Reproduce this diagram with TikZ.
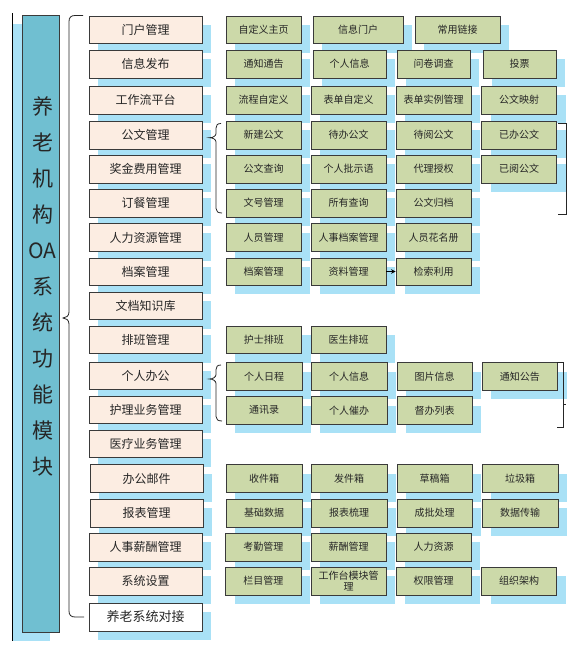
\documentclass[tikz,border=0pt]{standalone}
\usepackage{fontspec}
\newfontfamily\cjk{Noto Sans CJK SC}
\usetikzlibrary{arrows.meta}
\pgfdeclarelayer{bg}
\pgfsetlayers{bg,main}
\definecolor{shadowc}{HTML}{A9E1F6}
\definecolor{peach}{HTML}{FCEDE2}
\definecolor{greenc}{HTML}{CCD9A9}
\definecolor{titlec}{HTML}{70BFD1}
\definecolor{bordc}{HTML}{3A3A3A}
\definecolor{txtc}{HTML}{262626}
\tikzset{
  base/.style={draw=bordc,line width=0.9pt,inner sep=0pt,text=txtc,align=center},
  lone/.style={base,fill=peach,font=\cjk\fontsize{12}{14}\selectfont},
  lend/.style={base,fill=white,font=\cjk\fontsize{13}{15}\selectfont},
  ltwo/.style={base,fill=greenc,font=\cjk\fontsize{10}{11}\selectfont},
  brace/.style={draw=black!85,line width=0.8pt},
}
\newcommand\mybox[7]{%
  \begin{pgfonlayer}{bg}\fill[shadowc] (#3+9,#4+9) rectangle (#5+9,#6+9);\end{pgfonlayer}%
  \pgfmathsetmacro\bw{#5-#3}\pgfmathsetmacro\bh{#6-#4}%
  \node[#1,minimum width=\bw pt,minimum height=\bh pt] (#2) at ({(#3+#5)/2},{(#4+#6)/2}) {#7};%
}
\begin{document}
\begin{tikzpicture}[x=1pt,y=-1pt]
\useasboundingbox (0,0) rectangle (580,653);
% left line
\draw[line width=0.8pt] (12,13) -- (12,641);
% title
\begin{pgfonlayer}{bg}\fill[shadowc] (13,24) rectangle (50,641);\end{pgfonlayer}
\node[draw=bordc,line width=0.9pt,fill=titlec,minimum width=37pt,minimum height=616.5pt,inner sep=0pt] (title) at (40.5,323.75) {};
\node[font=\cjk\fontsize{21}{36}\selectfont,text=txtc,align=center,inner sep=0pt] (titletext) at (42.5,286) {养\\老\\机\\构\\OA\\系\\统\\功\\能\\模\\块};
% big brace
\draw[brace] (83,15.5) -- (75,15.5) .. controls (71,15.5) and (69,17.5) .. (69,21.5) -- (69,312) .. controls (69,316) and (66,318) .. (63,318) .. controls (66,318) and (69,320) .. (69,324) -- (69,611) .. controls (69,615) and (71,617) .. (75,617) -- (84,617);
% level 1
\mybox{lone}{a1}{89}{16}{202}{43.5}{门户管理}
\mybox{lone}{a2}{89}{50}{202}{78}{信息发布}
\mybox{lone}{a3}{89}{86}{202}{114}{工作流平台}
\mybox{lone}{a4}{89}{121}{202}{149}{公文管理}
\mybox{lone}{a5}{89}{155}{202}{183}{奖金费用管理}
\mybox{lone}{a6}{89}{189}{202}{217}{订餐管理}
\mybox{lone}{a7}{89}{223.5}{202}{251.5}{人力资源管理}
\mybox{lone}{a8}{89}{258}{202}{285}{档案管理}
\mybox{lone}{a9}{89}{292}{202}{319.5}{文档知识库}
\mybox{lone}{a10}{89}{326}{202}{353.5}{排班管理}
\mybox{lone}{a11}{89}{362}{202}{389.5}{个人办公}
\mybox{lone}{a12}{89}{396}{202}{423.5}{护理业务管理}
\mybox{lone}{a13}{89}{430}{202}{457.5}{医疗业务管理}
\mybox{lone}{a14}{90}{464.5}{203}{492.5}{办公邮件}
\mybox{lone}{a15}{90}{499}{203}{527}{报表管理}
\mybox{lone}{a16}{89}{533}{202}{561}{人事薪酬管理}
\mybox{lone}{a17}{89}{567}{202}{595}{系统设置}
\mybox{lend}{a18}{89}{603}{202}{631}{养老系统对接}
% row 1
\mybox{ltwo}{b11}{226}{16}{301}{43.5}{自定义主页}
\mybox{ltwo}{b12}{313}{16}{403}{43.5}{信息门户}
\mybox{ltwo}{b13}{415}{16}{500}{43.5}{常用链接}
% row 2
\mybox{ltwo}{b21}{226}{50}{301}{78}{通知通告}
\mybox{ltwo}{b22}{313}{50}{386}{78}{个人信息}
\mybox{ltwo}{b23}{397}{50}{470}{78}{问卷调查}
\mybox{ltwo}{b24}{483}{50}{556}{78}{投票}
% row 3
\mybox{ltwo}{b31}{226}{86}{301}{114}{流程自定义}
\mybox{ltwo}{b32}{311}{86}{386}{114}{表单自定义}
\mybox{ltwo}{b33}{396}{86}{471}{114}{表单实例管理}
\mybox{ltwo}{b34}{481.5}{86}{556.5}{114}{公文映射}
% row 4-6
\mybox{ltwo}{b41}{226}{121}{301}{149}{新建公文}
\mybox{ltwo}{b42}{311}{121}{386}{149}{待办公文}
\mybox{ltwo}{b43}{396}{121}{471}{149}{待阅公文}
\mybox{ltwo}{b44}{481.5}{121}{556.5}{149}{已办公文}
\mybox{ltwo}{b51}{226}{155}{301}{183}{公文查询}
\mybox{ltwo}{b52}{311}{155}{386}{183}{个人批示语}
\mybox{ltwo}{b53}{396}{155}{471}{183}{代理授权}
\mybox{ltwo}{b54}{481.5}{155}{556.5}{183}{已阅公文}
\mybox{ltwo}{b61}{226}{189}{301}{217}{文号管理}
\mybox{ltwo}{b62}{311}{189}{386}{217}{所有查询}
\mybox{ltwo}{b63}{396}{189}{471}{217}{公文归档}
% row 7
\mybox{ltwo}{b71}{226}{223.5}{301}{251.5}{人员管理}
\mybox{ltwo}{b72}{311}{223.5}{386}{251.5}{人事档案管理}
\mybox{ltwo}{b73}{396}{223.5}{471}{251.5}{人员花名册}
% row 8
\mybox{ltwo}{b81}{226}{258}{301}{285}{档案管理}
\mybox{ltwo}{b82}{311}{258}{386}{285}{资料管理}
\mybox{ltwo}{b83}{396}{258}{471}{285}{检索利用}
\draw[line width=0.8pt,-{Stealth[length=4.5pt,width=4.5pt]}] (b82.east) -- (b83.west);
% row 10
\mybox{ltwo}{b101}{226}{326}{301.5}{353.5}{护士排班}
\mybox{ltwo}{b102}{311}{326}{386}{353.5}{医生排班}
% row 11-12
\mybox{ltwo}{b111}{226}{362.5}{302}{390}{个人日程}
\mybox{ltwo}{b112}{311}{362.5}{387}{390}{个人信息}
\mybox{ltwo}{b113}{397}{362.5}{472}{390}{图片信息}
\mybox{ltwo}{b114}{482}{362.5}{557.5}{390}{通知公告}
\mybox{ltwo}{b121}{226}{396.5}{302}{424}{通讯录}
\mybox{ltwo}{b122}{311}{396.5}{387}{424}{个人催办}
\mybox{ltwo}{b123}{397}{396.5}{472}{424}{督办列表}
% row 14-17
\mybox{ltwo}{b141}{226}{464.5}{302}{492.5}{收件箱}
\mybox{ltwo}{b142}{311}{464.5}{387}{492.5}{发件箱}
\mybox{ltwo}{b143}{397}{464.5}{472}{492.5}{草稿箱}
\mybox{ltwo}{b144}{482}{464.5}{558}{492.5}{垃圾箱}
\mybox{ltwo}{b151}{226}{499}{302}{527}{基础数据}
\mybox{ltwo}{b152}{311}{499}{387}{527}{报表梳理}
\mybox{ltwo}{b153}{397}{499}{472}{527}{成批处理}
\mybox{ltwo}{b154}{482}{499}{558}{527}{数据传输}
\mybox{ltwo}{b161}{225.5}{533}{301}{561}{考勤管理}
\mybox{ltwo}{b162}{311}{533}{386}{561}{薪酬管理}
\mybox{ltwo}{b163}{396}{533}{471}{561}{人力资源}
\mybox{ltwo}{b171}{225.5}{567}{301}{595}{栏目管理}
\mybox{ltwo}{b172}{311}{567}{386}{595}{工作台模块管\\理}
\mybox{ltwo}{b173}{396}{567}{471}{595}{权限管理}
\mybox{ltwo}{b174}{481.5}{567}{556.5}{595}{组织架构}
% small braces
\draw[brace] (221,123.5) .. controls (217.5,123.5) and (216,125) .. (216,128) -- (216,133.5) .. controls (216,136) and (213,137.7) .. (209.5,137.7) .. controls (213,137.7) and (216,139.5) .. (216,142) -- (216,208.5) .. controls (216,211.5) and (218,213) .. (222,213);
\draw[brace] (221,365) .. controls (217.5,365) and (216,366.5) .. (216,369.5) -- (216,374.5) .. controls (216,377) and (213,379) .. (209.5,379) .. controls (213,379) and (216,381) .. (216,383.5) -- (216,416.5) .. controls (216,419.5) and (218,421) .. (222,421);
% right brackets
\draw[brace] (558,123.5) -- (566,123.5) -- (566,214) -- (558,214);
\draw[brace] (557,362) -- (563.5,362) -- (563.5,427) -- (557,427);
\draw[brace] (563.5,404) -- (565.5,404);
\end{tikzpicture}
\end{document}
